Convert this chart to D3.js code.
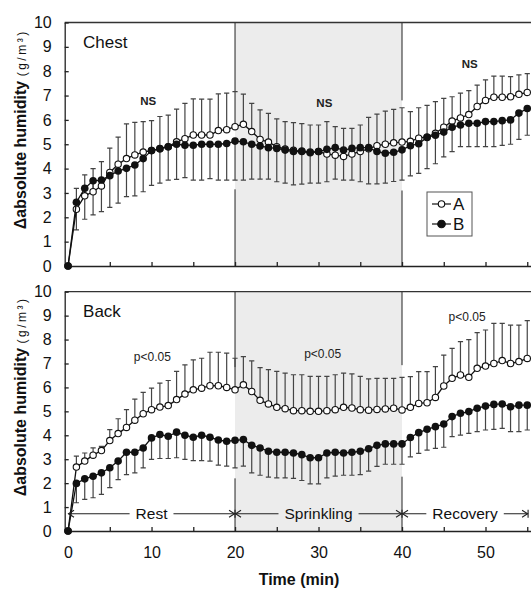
<!DOCTYPE html>
<html>
<head>
<meta charset="utf-8">
<script src="https://cdn.jsdelivr.net/npm/d3@7"></script>
<style>
  body { margin: 0; background: #fff; overflow: hidden; }
  svg { display: block; font-family: 'Liberation Sans', Arial, sans-serif; }
</style>
</head>
<body>
<div id="chart"></div>
<script>
// time points (min)
var minutes = [0, 1, 2, 3, 4, 5, 6, 7, 8, 9, 10, 11, 12, 13, 14, 15, 16, 17, 18, 19,
  20, 21, 22, 23, 24, 25, 26, 27, 28, 29, 30, 31, 32, 33, 34, 35, 36, 37, 38, 39,
  40, 41, 42, 43, 44, 45, 46, 47, 48, 49, 50, 51, 52, 53, 54, 55]

// Chest, condition A (mean and SD)
var chestA = [0, 2.33, 2.88, 3.05, 3.29, 3.84, 4.18, 4.41, 4.56, 4.68, 4.74, 4.82, 4.9, 5.1, 5.23, 5.38, 5.38, 5.38, 5.56, 5.6,
  5.72, 5.82, 5.52, 5.2, 5.09, 4.9, 4.8, 4.75, 4.72, 4.68, 4.7, 4.6, 4.55, 4.5, 4.6, 4.7, 4.82, 4.94, 5.0, 5.06,
  5.09, 5.12, 5.25, 5.3, 5.45, 5.7, 5.95, 6.08, 6.22, 6.55, 6.8, 6.93, 6.93, 6.95, 7.05, 7.13]
var chestAsd = [0, 0.86, 0.86, 0.95, 1.0, 1.0, 1.11, 1.43, 1.34, 1.25, 1.23, 1.32, 1.3, 1.34, 1.45, 1.48, 1.47, 1.47, 1.51, 1.5,
  1.44, 1.24, 1.16, 1.21, 1.18, 1.14, 1.13, 1.14, 1.13, 1.11, 1.09, 1.33, 1.17, 1.15, 1.05, 1.09, 1.28, 1.3, 1.36, 1.37,
  1.41, 1.22, 1.25, 1.3, 1.3, 1.18, 1.0, 1.02, 0.98, 0.88, 0.84, 0.87, 0.87, 0.83, 0.8, 0.77]

// Chest, condition B (mean and SD)
var chestB = [0, 2.62, 3.19, 3.5, 3.53, 3.71, 3.9, 4.01, 4.15, 4.41, 4.74, 4.82, 4.9, 5.0, 4.96, 4.96, 5.0, 5.0, 5.0, 5.03,
  5.13, 5.1, 5.0, 4.93, 4.86, 4.83, 4.76, 4.7, 4.7, 4.65, 4.7, 4.79, 4.86, 4.76, 4.83, 4.86, 4.86, 4.7, 4.63, 4.67,
  4.77, 4.94, 5.02, 5.28, 5.37, 5.5, 5.7, 5.79, 5.86, 5.86, 5.93, 5.93, 5.97, 6.0, 6.28, 6.47]
var chestBsd = [0, 1.14, 1.27, 1.4, 1.3, 1.3, 1.32, 1.16, 1.27, 1.36, 1.43, 1.42, 1.37, 1.44, 1.33, 1.43, 1.47, 1.41, 1.47, 1.5,
  1.6, 1.57, 1.43, 1.36, 1.29, 1.37, 1.36, 1.37, 1.34, 1.25, 1.3, 1.33, 1.29, 1.23, 1.3, 1.4, 1.49, 1.33, 1.23, 1.2,
  1.24, 1.24, 1.22, 1.28, 1.17, 1.02, 1.0, 0.89, 0.96, 0.96, 1.03, 1.03, 1.02, 1.0, 1.08, 1.1]

// Back, condition A (mean and SD)
var backA = [0, 2.67, 2.92, 3.17, 3.36, 3.78, 4.07, 4.33, 4.63, 4.9, 5.07, 5.18, 5.24, 5.49, 5.72, 5.9, 5.97, 6.07, 6.07, 6.0,
  5.9, 6.11, 5.83, 5.46, 5.31, 5.17, 5.11, 5.03, 5.03, 5.0, 5.0, 5.03, 5.07, 5.17, 5.14, 5.07, 5.05, 5.08, 5.1, 5.13,
  5.06, 5.17, 5.33, 5.36, 5.58, 6.06, 6.38, 6.52, 6.42, 6.8, 6.89, 7.0, 7.12, 7.0, 7.08, 7.21]
var backAsd = [0, 0.46, 0.34, 0.3, 0.18, 0.46, 0.62, 0.74, 0.88, 0.89, 0.9, 1.0, 1.05, 1.18, 1.22, 1.25, 1.25, 1.4, 1.4, 1.43,
  1.32, 1.18, 1.28, 1.37, 1.43, 1.5, 1.49, 1.5, 1.5, 1.46, 1.46, 1.43, 1.46, 1.43, 1.43, 1.39, 1.31, 1.3, 1.28, 1.25,
  1.36, 1.28, 1.33, 1.3, 1.29, 1.29, 1.25, 1.39, 1.58, 1.49, 1.51, 1.68, 1.56, 1.6, 1.52, 1.58]

// Back, condition B (mean and SD)
var backB = [0, 1.99, 2.18, 2.29, 2.43, 2.64, 2.92, 3.29, 3.29, 3.47, 3.89, 4.03, 3.96, 4.13, 4.0, 3.92, 4.0, 3.92, 3.8, 3.75,
  3.79, 3.82, 3.58, 3.47, 3.33, 3.29, 3.29, 3.26, 3.19, 3.06, 3.06, 3.26, 3.29, 3.26, 3.29, 3.33, 3.44, 3.58, 3.64, 3.64,
  3.64, 3.91, 4.11, 4.25, 4.36, 4.47, 4.78, 4.92, 4.99, 5.13, 5.22, 5.29, 5.31, 5.19, 5.26, 5.26]
var backBsd = [0, 0.81, 0.86, 0.9, 0.9, 0.83, 0.77, 0.93, 0.86, 0.83, 0.9, 1.0, 0.93, 1.07, 1.01, 0.98, 1.06, 1.0, 1.05, 1.04,
  1.15, 1.11, 1.15, 1.14, 1.08, 1.07, 1.07, 1.06, 1.08, 1.09, 1.09, 1.04, 1.0, 0.93, 0.96, 0.97, 0.94, 0.88, 0.85, 0.85,
  0.85, 0.81, 0.87, 0.87, 0.91, 0.97, 0.84, 0.91, 0.91, 0.98, 1.0, 1.04, 1.02, 1.04, 1.11, 1.04]

// y ticks, x ticks (the 60 label lies beyond the right edge of the picture)
var yTicks = [0, 1, 2, 3, 4, 5, 6, 7, 8, 9, 10]
var xTicks = [0, 5, 10, 15, 20, 25, 30, 35, 40, 45, 50, 55]

// phases (bottom panel) and the shaded sprinkling period
var phaseNames = ['Rest', 'Sprinkling', 'Recovery']
var phaseBounds = [0, 20, 40, 55.1]

// significance labels: [label, minute, value]
var chestNotes = [['NS', 9.6, 6.78], ['NS', 30.7, 6.7], ['NS', 48.1, 8.3]]
var backNotes = [['p<0.05', 10.1, 7.27], ['p<0.05', 30.5, 7.4], ['p<0.05', 47.8, 8.95]]

// where the vertical phase lines are interrupted by the data: [minute, from, to]
var chestGaps = [[20, 3.15, 7.18], [40, 3.1, 6.8]]
var backGaps = [[20, 2.2, 6.85], [40, 2.27, 6.93]]

var width = 531
var height = 589

var svg = d3
  .select('#chart')
  .append('svg')
  .attr('width', width)
  .attr('height', height)

var xPositionScale = d3.scaleLinear().domain([-0.4, 60]).range([64.7, 569])

var panels = [
  { name: 'Chest', top: 22.5, bottom: 266, a: chestA, asd: chestAsd, b: chestB, bsd: chestBsd, notes: chestNotes, gaps: chestGaps, noteBold: true },
  { name: 'Back', top: 291.7, bottom: 531, a: backA, asd: backAsd, b: backB, bsd: backBsd, notes: backNotes, gaps: backGaps, noteBold: false }
]

panels.forEach(function(p, i) {
  var yPositionScale = d3.scaleLinear().domain([0, 10]).range([p.bottom, p.top])
  var g = svg.append('g').attr('class', 'panel')

  var pointsA = minutes.map((m, k) => ({ t: m, v: p.a[k], sd: p.asd[k] }))
  var pointsB = minutes.map((m, k) => ({ t: m, v: p.b[k], sd: p.bsd[k] }))

  // shaded sprinkling period
  g.append('rect')
    .attr('x', xPositionScale(phaseBounds[1]))
    .attr('y', p.top)
    .attr('width', xPositionScale(phaseBounds[2]) - xPositionScale(phaseBounds[1]))
    .attr('height', p.bottom - p.top)
    .attr('fill', '#ececec')

  // vertical phase lines, broken around the data
  p.gaps.forEach(function(gap) {
    var x = xPositionScale(gap[0])
    g.append('line')
      .attr('x1', x).attr('x2', x)
      .attr('y1', p.top).attr('y2', yPositionScale(gap[2]))
      .attr('stroke', '#222').attr('stroke-width', 1)
    g.append('line')
      .attr('x1', x).attr('x2', x)
      .attr('y1', yPositionScale(gap[1])).attr('y2', p.bottom)
      .attr('stroke', '#222').attr('stroke-width', 1)
  })

  // top border of the frame
  g.append('line')
    .attr('x1', xPositionScale(-0.4)).attr('x2', width)
    .attr('y1', p.top).attr('y2', p.top)
    .attr('stroke', '#333').attr('stroke-width', 1.3)

  // axes
  var yAxis = d3.axisLeft(yPositionScale)
    .tickValues(yTicks)
    .tickSizeInner(-4)
    .tickSizeOuter(0)
    .tickPadding(13)

  g.append('g')
    .attr('class', 'axis y-axis')
    .attr('transform', `translate(${xPositionScale(-0.4)},0)`)
    .call(yAxis)

  var xAxis = d3.axisBottom(xPositionScale)
    .tickValues(xTicks)
    .tickSizeInner(-4)
    .tickSizeOuter(0)
    .tickPadding(16)
    .tickFormat(d => (i === 1 && d % 10 === 0) ? d : '')

  g.append('g')
    .attr('class', 'axis x-axis')
    .attr('transform', `translate(0,${p.bottom})`)
    .call(xAxis)

  g.selectAll('.axis path, .axis line').attr('stroke', '#222').attr('stroke-width', 1.3)
  g.selectAll('.axis text').attr('font-size', 16).attr('fill', '#111')
    .attr('font-family', "'Liberation Sans', Arial, sans-serif")

  // y axis title
  var yTitle = g.append('text')
    .attr('transform', `translate(20,${(p.top + p.bottom) / 2 - 15}) rotate(-90)`)
    .attr('text-anchor', 'middle')
    .attr('dy', '0.35em')
    .attr('fill', '#111')
  yTitle.append('tspan').text('\u0394absolute humidity ')
    .attr('font-size', 16).attr('font-weight', 'bold')
  yTitle.append('tspan').text('(g/m\u00b3)')
    .attr('font-size', 12).attr('letter-spacing', 2.5)

  // panel name
  g.append('text')
    .attr('x', xPositionScale(1.8))
    .attr('y', p.top + 25)
    .text(p.name)
    .attr('font-size', 17)
    .attr('fill', '#111')

  // significance notes
  g.selectAll('.note')
    .data(p.notes)
    .enter()
    .append('text')
    .attr('class', 'note')
    .attr('x', d => xPositionScale(d[1]))
    .attr('y', d => yPositionScale(d[2]))
    .attr('dy', '0.35em')
    .attr('text-anchor', 'middle')
    .attr('font-size', p.noteBold ? 11.5 : 12)
    .attr('font-weight', p.noteBold ? 'bold' : 'normal')
    .attr('fill', '#222')
    .text(d => d[0])

  // error bars: A upward, B downward
  var capW = 2.6
  var bars = [
    { pts: pointsA, dir: 1 },
    { pts: pointsB, dir: -1 }
  ]
  bars.forEach(function(s) {
    var eb = g.append('g').attr('class', 'error-bars')
    eb.selectAll('.err')
      .data(s.pts.filter(d => d.sd > 0))
      .enter()
      .append('path')
      .attr('class', 'err')
      .attr('d', function(d) {
        var x = xPositionScale(d.t)
        var y0 = yPositionScale(d.v)
        var y1 = yPositionScale(d.v + s.dir * d.sd)
        return `M${x},${y0}V${y1}M${x - capW},${y1}H${x + capW}`
      })
      .attr('fill', 'none')
      .attr('stroke', '#444')
      .attr('stroke-width', 1.2)
  })

  var line = d3.line()
    .x(d => xPositionScale(d.t))
    .y(d => yPositionScale(d.v))

  // condition A: open circles
  g.append('path')
    .datum(pointsA)
    .attr('d', line)
    .attr('fill', 'none')
    .attr('stroke', '#111')
    .attr('stroke-width', 1.3)

  g.selectAll('.pt-a')
    .data(pointsA)
    .enter()
    .append('circle')
    .attr('class', 'pt-a')
    .attr('cx', d => xPositionScale(d.t))
    .attr('cy', d => yPositionScale(d.v))
    .attr('r', 3.2)
    .attr('fill', '#fff')
    .attr('stroke', '#111')
    .attr('stroke-width', 1.1)

  // condition B: filled circles
  g.append('path')
    .datum(pointsB)
    .attr('d', line)
    .attr('fill', 'none')
    .attr('stroke', '#111')
    .attr('stroke-width', 1.3)

  g.selectAll('.pt-b')
    .data(pointsB)
    .enter()
    .append('circle')
    .attr('class', 'pt-b')
    .attr('cx', d => xPositionScale(d.t))
    .attr('cy', d => yPositionScale(d.v))
    .attr('r', 3.8)
    .attr('fill', '#111')

  // legend (chest panel only)
  if (i === 0) {
    var legend = g.append('g').attr('transform', 'translate(427,192)')
    legend.append('rect')
      .attr('width', 45).attr('height', 44)
      .attr('fill', '#fff').attr('stroke', '#555').attr('stroke-width', 1)
    var items = [['A', false], ['B', true]]
    items.forEach(function(item, k) {
      var ly = 12 + k * 20
      legend.append('line')
        .attr('x1', 5).attr('x2', 24).attr('y1', ly).attr('y2', ly)
        .attr('stroke', '#111').attr('stroke-width', 1.2)
      legend.append('circle')
        .attr('cx', 14.5).attr('cy', ly)
        .attr('r', item[1] ? 3.8 : 3.2)
        .attr('fill', item[1] ? '#111' : '#fff')
        .attr('stroke', '#111').attr('stroke-width', 1.1)
      legend.append('text')
        .attr('x', 26).attr('y', ly).attr('dy', '0.36em')
        .attr('font-size', 17).attr('fill', '#111')
        .text(item[0])
    })
  }

  // phase annotation (back panel only)
  if (i === 1) {
    var py = yPositionScale(0.72)
    var ph = g.append('g').attr('class', 'phases')
    var stroke = '#222'
    phaseNames.forEach(function(name, k) {
      var x0 = xPositionScale(phaseBounds[k])
      var x1 = xPositionScale(phaseBounds[k + 1])
      var cx = (x0 + x1) / 2
      var t = ph.append('text')
        .attr('x', cx).attr('y', py).attr('dy', '0.36em')
        .attr('text-anchor', 'middle')
        .attr('font-size', 15.5)
        .attr('fill', '#111')
        .text(name)
      var w = t.node().getComputedTextLength()
      ph.append('path')
        .attr('d', `M${x0},${py}H${cx - w / 2 - 6}M${cx + w / 2 + 6},${py}H${x1}`)
        .attr('stroke', stroke).attr('stroke-width', 1.1).attr('fill', 'none')
      // arrowheads at both ends of each phase
      ph.append('path')
        .attr('d', `M${x0 + 6},${py - 3.5}L${x0 + 0.5},${py}L${x0 + 6},${py + 3.5}` +
          `M${x1 - 6},${py - 3.5}L${x1 - 0.5},${py}L${x1 - 6},${py + 3.5}`)
        .attr('stroke', stroke).attr('stroke-width', 1.1).attr('fill', 'none')
    })
    // tick marks at phase boundaries
    ph.selectAll('.bound')
      .data(phaseBounds.slice(1))
      .enter()
      .append('line')
      .attr('x1', d => xPositionScale(d)).attr('x2', d => xPositionScale(d))
      .attr('y1', py - 4).attr('y2', py + 4)
      .attr('stroke', stroke).attr('stroke-width', 1.1)
  }
})

// x axis title
svg.append('text')
  .attr('x', 299)
  .attr('y', 585)
  .attr('text-anchor', 'middle')
  .attr('font-size', 16)
  .attr('font-weight', 'bold')
  .attr('fill', '#111')
  .text('Time (min)')
</script>
</body>
</html>
